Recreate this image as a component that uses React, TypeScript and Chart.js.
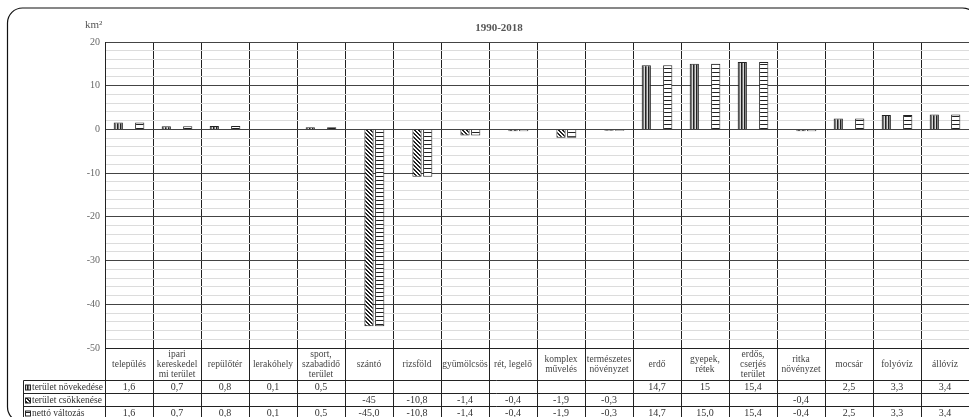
import React, { useEffect, useRef } from 'react';
import { Chart, registerables } from 'chart.js';

Chart.register(...registerables);

const categories: string[][] = [
  ['település'],
  ['ipari', 'kereskedel', 'mi terület'],
  ['repülőtér'],
  ['lerakóhely'],
  ['sport,', 'szabadidő', 'terület'],
  ['szántó'],
  ['rizsföld'],
  ['gyümölcsös'],
  ['rét, legelő'],
  ['komplex', 'művelés'],
  ['természetes', 'növényzet'],
  ['erdő'],
  ['gyepek,', 'rétek'],
  ['erdős,', 'cserjés', 'terület'],
  ['ritka', 'növényzet'],
  ['mocsár'],
  ['folyóvíz'],
  ['állóvíz'],
];

const seriesNames = ['terület növekedése', 'terület csökkenése', 'nettó változás'];

const increase: (number | null)[] = [1.6, 0.7, 0.8, 0.1, 0.5, null, null, null, null, null, null, 14.7, 15, 15.4, null, 2.5, 3.3, 3.4];
const decrease: (number | null)[] = [null, null, null, null, null, -45, -10.8, -1.4, -0.4, -1.9, -0.3, null, null, null, -0.4, null, null, null];
const net: number[] = [1.6, 0.7, 0.8, 0.1, 0.5, -45, -10.8, -1.4, -0.4, -1.9, -0.3, 14.7, 15, 15.4, -0.4, 2.5, 3.3, 3.4];

const increaseText = ['1,6', '0,7', '0,8', '0,1', '0,5', '', '', '', '', '', '', '14,7', '15', '15,4', '', '2,5', '3,3', '3,4'];
const decreaseText = ['', '', '', '', '', '-45', '-10,8', '-1,4', '-0,4', '-1,9', '-0,3', '', '', '', '-0,4', '', '', ''];
const netText = ['1,6', '0,7', '0,8', '0,1', '0,5', '-45,0', '-10,8', '-1,4', '-0,4', '-1,9', '-0,3', '14,7', '15,0', '15,4', '-0,4', '2,5', '3,3', '3,4'];

const yMin = -50;
const yMax = 20;
const yMajor = 10;
const yMinor = 2;
const titleText = '1990-2018';
const unitText = 'km²';

const SERIF = '"Liberation Serif", "DejaVu Serif", serif';

function makePattern(kind: 'v' | 'd' | 'h'): CanvasPattern | string {
  const c = document.createElement('canvas');
  let w = 2, h = 2;
  if (kind === 'v') { w = 3; h = 1; }
  if (kind === 'h') { w = 1; h = 4; }
  if (kind === 'd') { w = 4; h = 4; }
  c.width = w; c.height = h;
  const g = c.getContext('2d');
  if (!g) return '#888';
  g.fillStyle = '#ffffff';
  g.fillRect(0, 0, w, h);
  if (kind === 'v') {
    g.fillStyle = '#222';
    g.fillRect(0, 0, 1, 1);
    g.fillStyle = '#777';
    g.fillRect(1, 0, 1, 1);
    g.fillStyle = '#d8d8d8';
    g.fillRect(2, 0, 1, 1);
  } else if (kind === 'h') {
    g.fillStyle = '#222';
    g.fillRect(0, 0, 1, 1);
  } else {
    g.fillStyle = '#222';
    for (let y = 0; y < 4; y++) {
      for (let x = 0; x < 4; x++) {
        const m = (((x - y) % 4) + 4) % 4;
        if (m === 0 || m === 1) g.fillRect(x, y, 1, 1);
      }
    }
  }
  const p = g.createPattern(c, 'repeat');
  return p || '#888';
}

export default function App() {
  const ref = useRef<HTMLCanvasElement>(null);

  useEffect(() => {
    const canvas = ref.current;
    if (!canvas) return;
    const pats = [makePattern('v'), makePattern('d'), makePattern('h')];
    const rowTexts = [increaseText, decreaseText, netText];

    const tablePlugin = {
      id: 'tablePlugin',
      afterDraw(chart: any) {
        const { ctx, chartArea } = chart;
        const xs = chart.scales.x;
        const n = categories.length;
        const colW = xs.getPixelForValue(1) - xs.getPixelForValue(0);
        const left = xs.getPixelForValue(0) - colW / 2;
        const labelTop = chartArea.bottom;
        const rowTop = 380.5;
        const rowH = 13;
        const tableLeft = 23.5;
        const bottom = 430;
        ctx.save();
        ctx.strokeStyle = '#222';
        ctx.lineWidth = 1;
        for (let i = 0; i <= n; i++) {
          const x = Math.round(left + i * colW) + 0.5;
          ctx.beginPath();
          ctx.moveTo(x, labelTop);
          ctx.lineTo(x, bottom);
          ctx.stroke();
        }
        for (let k = 0; k < 4; k++) {
          const y = rowTop + k * rowH;
          ctx.beginPath();
          ctx.moveTo(tableLeft, y);
          ctx.lineTo(chartArea.right, y);
          ctx.stroke();
        }
        ctx.beginPath();
        ctx.moveTo(tableLeft, rowTop);
        ctx.lineTo(tableLeft, bottom);
        ctx.stroke();

        // category labels
        ctx.fillStyle = '#444';
        ctx.font = `9.5px ${SERIF}`;
        ctx.textAlign = 'center';
        ctx.textBaseline = 'middle';
        const midY = (labelTop + rowTop) / 2;
        categories.forEach((lines, i) => {
          const cx = left + (i + 0.5) * colW;
          const lh = 10;
          const y0 = midY - ((lines.length - 1) * lh) / 2;
          lines.forEach((t, j) => ctx.fillText(t, cx, y0 + j * lh));
        });

        // rows
        for (let r = 0; r < 3; r++) {
          const cy = rowTop + r * rowH + rowH / 2 + 0.5;
          ctx.fillStyle = pats[r];
          ctx.fillRect(25.5, cy - 2.5, 5, 5);
          ctx.strokeStyle = '#222';
          ctx.strokeRect(25.5, cy - 2.5, 5, 5);
          ctx.fillStyle = '#333';
          ctx.font = `9.5px ${SERIF}`;
          ctx.textAlign = 'left';
          ctx.fillText(seriesNames[r], 32, cy);
          ctx.font = `10px ${SERIF}`;
          ctx.textAlign = 'center';
          rowTexts[r].forEach((t, i) => {
            if (!t) return;
            ctx.fillText(t, left + (i + 0.5) * colW, cy);
          });
        }

        // title and unit
        ctx.fillStyle = '#555';
        ctx.font = `bold 11px ${SERIF}`;
        ctx.textAlign = 'center';
        ctx.fillText(titleText, 499, 28);
        ctx.font = `11px ${SERIF}`;
        ctx.fillStyle = '#555';
        ctx.textAlign = 'left';
        ctx.fillText(unitText, 85, 25);

        // outer frame
        ctx.strokeStyle = '#111';
        ctx.lineWidth = 1.2;
        ctx.beginPath();
        (ctx as any).roundRect(7.5, 8, 970, 414, 15);
        ctx.stroke();
        ctx.restore();
      },
    };

    const bgPlugin = {
      id: 'bg',
      beforeDraw(chart: any) {
        const { ctx, width, height } = chart;
        ctx.save();
        ctx.fillStyle = '#fff';
        ctx.fillRect(0, 0, width, height);
        ctx.restore();
      },
    };

    const chart = new Chart(canvas, {
      type: 'bar',
      data: {
        labels: categories.map((c) => c.join(' ')),
        datasets: [
          { label: seriesNames[0], data: increase as any, backgroundColor: pats[0] as any, borderColor: '#222', borderWidth: 1 },
          { label: seriesNames[1], data: decrease as any, backgroundColor: pats[1] as any, borderColor: '#222', borderWidth: 1 },
          { label: seriesNames[2], data: net, backgroundColor: pats[2] as any, borderColor: '#222', borderWidth: 1 },
        ],
      },
      options: {
        animation: false,
        responsive: false,
        devicePixelRatio: 1,
        layout: { padding: { left: 0, right: 0, top: 42, bottom: 69 } },
        plugins: { legend: { display: false }, tooltip: { enabled: false }, title: { display: false } },
        datasets: { bar: { categoryPercentage: 0.67, barPercentage: 0.86 } },
        scales: {
          x: {
            offset: true,
            grid: { offset: true, color: '#222', lineWidth: 1, drawTicks: false },
            border: { color: '#222', width: 1 },
            ticks: { display: false },
            afterFit: (s: any) => { s.height = 0; },
          },
          y: {
            min: yMin,
            max: yMax,
            afterFit: (s: any) => { s.width = 105; },
            afterBuildTicks: (s: any) => {
              const t = [];
              for (let v = yMin; v <= yMax; v += yMinor) t.push({ value: v });
              s.ticks = t;
            },
            ticks: {
              autoSkip: false,
              padding: 5,
              color: '#666',
              font: { family: SERIF, size: 10 },
              callback: (v: any) => (Number(v) % yMajor === 0 ? String(v) : ''),
            },
            grid: {
              drawTicks: false,
              color: (c: any) => (c.tick && c.tick.value % yMajor === 0 ? '#444' : '#dcdcdc'),
              lineWidth: 1,
            },
            border: { color: '#222', width: 1 },
          },
        },
      },
      plugins: [bgPlugin, tablePlugin],
    });
    return () => chart.destroy();
  }, []);

  return (
    <div style={{ position: 'fixed', left: 0, top: 0, width: 969, height: 417, background: '#fff' }}>
      <canvas ref={ref} width={969} height={417} style={{ display: 'block', width: 969, height: 417 }} />
    </div>
  );
}
